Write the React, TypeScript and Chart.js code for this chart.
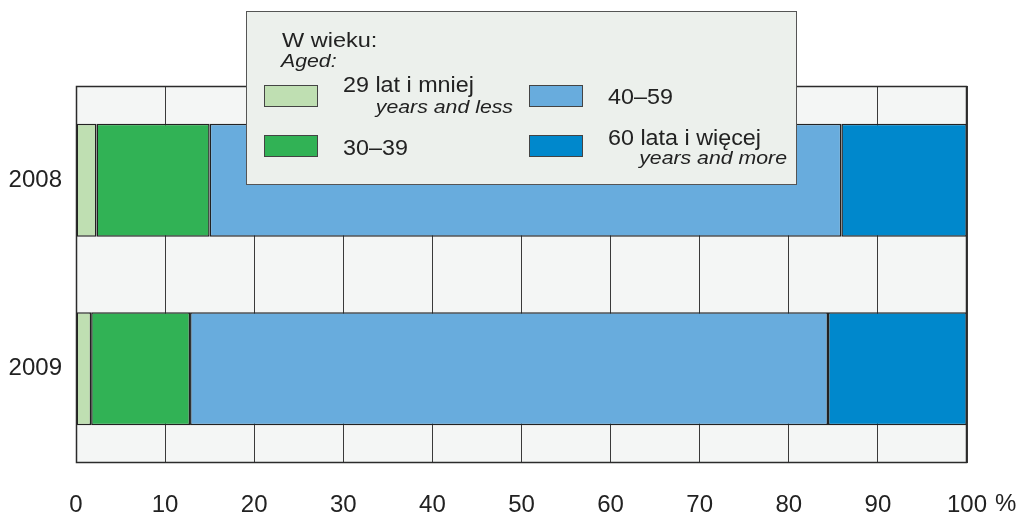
import React, { useEffect, useRef } from "react";
import { Chart, registerables } from "chart.js";

Chart.register(...registerables);

const years = ["2008", "2009"];
const seriesNames = ["29 lat i mniej", "30–39", "40–59", "60 lata i więcej"];
const seriesSub = ["years and less", "", "", "years and more"];
const age29 = [2.3, 1.7];
const age30 = [12.7, 11.1];
const age40 = [70.9, 71.6];
const age60 = [14.1, 15.6];
const colors = ["#bfdfb2", "#31b255", "#68acdd", "#0088cc"];
const xTicks = [0, 10, 20, 30, 40, 50, 60, 70, 80, 90, 100];

const FONT = "'Liberation Sans', Arial, Helvetica, sans-serif";

function stretchText(ctx: any, text: string, x: number, y: number, sx: number, align: "left" | "right") {
  ctx.save();
  ctx.translate(x, y);
  ctx.scale(sx, 1);
  ctx.textAlign = align;
  ctx.fillText(text, 0, 0);
  ctx.restore();
}

const framePlugin = {
  id: "frame",
  beforeDraw(chart: any) {
    const { ctx, chartArea: a } = chart;
    ctx.save();
    ctx.fillStyle = "#f4f6f5";
    ctx.fillRect(a.left, a.top, a.right - a.left, a.bottom - a.top);
    ctx.restore();
  },
  afterDatasetsDraw(chart: any) {
    const { ctx, chartArea: a } = chart;
    ctx.save();
    ctx.strokeStyle = "#2b2b2b";
    ctx.lineWidth = 1.5;
    ctx.strokeRect(Math.round(a.left) + 0.5, Math.round(a.top) + 0.5, Math.round(a.right - a.left) - 1, Math.round(a.bottom - a.top) - 1);
    ctx.restore();
  },
  afterDraw(chart: any) {
    const { ctx, chartArea: a } = chart;
    ctx.save();
    // percent sign
    ctx.fillStyle = "#222";
    ctx.font = `24px ${FONT}`;
    ctx.textBaseline = "alphabetic";
    ctx.textAlign = "left";
    ctx.fillText("%", a.right + 28, 511);

    // legend box
    const bx = 246, by = 11, bw = 551, bh = 174;
    ctx.fillStyle = "#ecf0ec";
    ctx.fillRect(bx, by, bw, bh);
    ctx.strokeStyle = "#555";
    ctx.lineWidth = 1;
    ctx.strokeRect(bx + 0.5, by + 0.5, bw - 1, bh - 1);

    ctx.fillStyle = "#222";
    ctx.font = `21px ${FONT}`;
    stretchText(ctx, "W wieku:", 282, 47, 1.12, "left");
    ctx.font = `italic 19px ${FONT}`;
    stretchText(ctx, "Aged:", 281, 67, 1.12, "left");

    const sw = [
      { x: 264, y: 85 },
      { x: 264, y: 135 },
      { x: 529, y: 85 },
      { x: 529, y: 135 },
    ];
    const mainY = [92, 155, 104, 145];
    const subY = [113, 0, 0, 164];
    const subRight = [513, 0, 0, 787];
    for (let i = 0; i < 4; i++) {
      ctx.fillStyle = colors[i];
      ctx.fillRect(sw[i].x, sw[i].y, 54, 22);
      ctx.strokeStyle = "#444";
      ctx.lineWidth = 1;
      ctx.strokeRect(sw[i].x + 0.5, sw[i].y + 0.5, 53, 21);
      ctx.fillStyle = "#222";
      ctx.font = `22px ${FONT}`;
      stretchText(ctx, seriesNames[i], sw[i].x + 79, mainY[i], 1.06, "left");
      if (seriesSub[i]) {
        ctx.font = `italic 19px ${FONT}`;
        stretchText(ctx, seriesSub[i], subRight[i], subY[i], 1.12, "right");
      }
    }
    ctx.restore();
  },
};

export default function App() {
  const ref = useRef<HTMLCanvasElement>(null);
  useEffect(() => {
    if (!ref.current) return;
    const data = [age29, age30, age40, age60];
    const chart = new Chart(ref.current, {
      type: "bar",
      data: {
        labels: years,
        datasets: data.map((d, i) => ({
          label: seriesNames[i],
          data: d,
          backgroundColor: colors[i],
          borderColor: "#222",
          borderWidth: 1.5,
          borderSkipped: false,
          barPercentage: 0.6,
          categoryPercentage: 1,
        })),
      },
      options: {
        indexAxis: "y",
        animation: false,
        responsive: false,
        layout: { padding: { top: 86, right: 53, left: 0, bottom: 0 } },
        plugins: { legend: { display: false }, tooltip: { enabled: false } },
        scales: {
          x: {
            stacked: true,
            min: 0,
            max: 100,
            afterBuildTicks: (s: any) => {
              s.ticks = xTicks.map((v) => ({ value: v }));
            },
            afterFit: (s: any) => {
              s.height = 50;
            },
            grid: { color: "#3a3a3a", lineWidth: 1, drawTicks: false },
            border: { display: false },
            ticks: {
              padding: 28,
              color: "#222",
              font: { family: FONT, size: 24 },
              maxRotation: 0,
            },
          },
          y: {
            stacked: true,
            afterFit: (s: any) => {
              s.width = 76;
            },
            grid: { display: false, drawTicks: false },
            border: { display: false },
            ticks: {
              padding: 14,
              color: "#222",
              font: { family: FONT, size: 24 },
            },
          },
        },
      },
      plugins: [framePlugin],
    } as any);
    return () => chart.destroy();
  }, []);
  return (
    <div style={{ position: "fixed", top: 0, left: 0, width: 1020, height: 513, background: "#fff" }}>
      <canvas ref={ref} width={1020} height={513} />
    </div>
  );
}
